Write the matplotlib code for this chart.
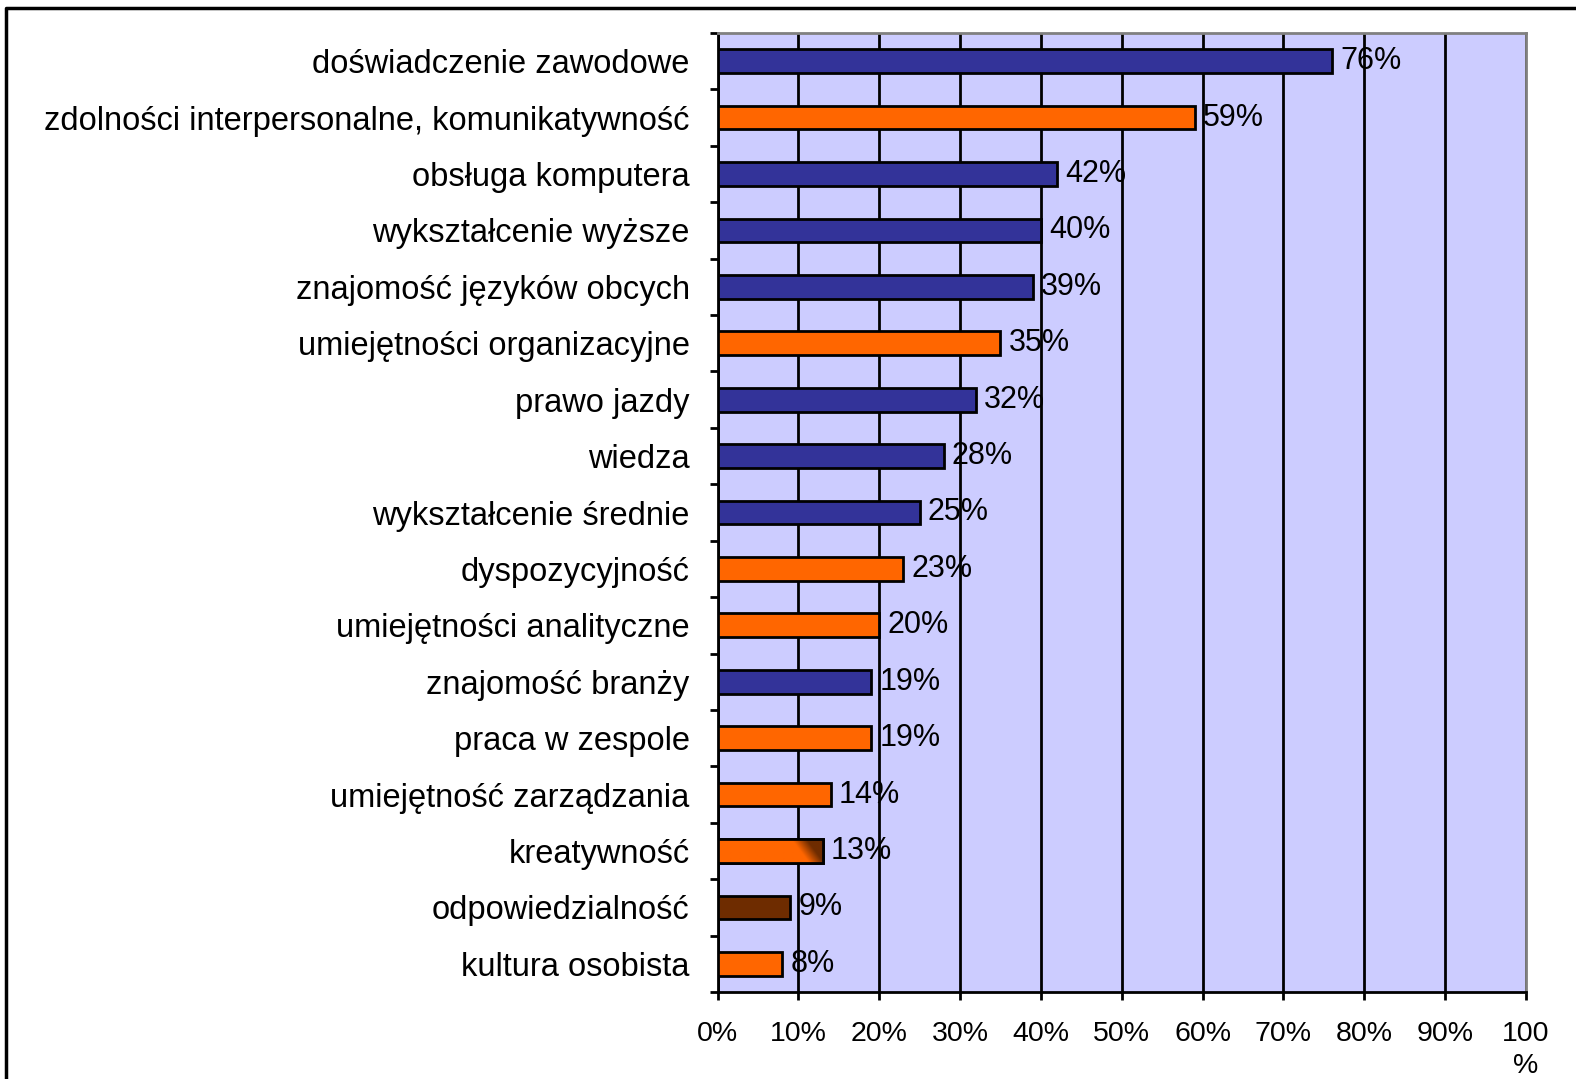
import numpy as np
import matplotlib.pyplot as plt
from matplotlib.lines import Line2D
from matplotlib.colors import to_rgb

# dane z wykresu (od gory do dolu)
kategorie = ['doświadczenie zawodowe',
             'zdolności interpersonalne, komunikatywność',
             'obsługa komputera',
             'wykształcenie wyższe',
             'znajomość języków obcych',
             'umiejętności organizacyjne',
             'prawo jazdy',
             'wiedza',
             'wykształcenie średnie',
             'dyspozycyjność',
             'umiejętności analityczne',
             'znajomość branży',
             'praca w zespole',
             'umiejętność zarządzania',
             'kreatywność',
             'odpowiedzialność',
             'kultura osobista']
wartosci = [76, 59, 42, 40, 39, 35, 32, 28, 25, 23, 20, 19, 19, 14, 13, 9, 8]
grupy = ['n', 'o', 'n', 'n', 'n', 'o', 'n', 'n', 'n', 'o', 'o', 'n', 'o', 'o', 'g', 'b', 'o']
xticki = ['0%', '10%', '20%', '30%', '40%', '50%', '60%', '70%', '80%', '90%', '100\n%']

kolory = {'n': '#333399', 'o': '#FF6600', 'b': '#6E2C00', 'g': '#FF6600'}

plt.rcParams['font.family'] = ['Liberation Sans', 'DejaVu Sans']

fig = plt.figure(figsize=(15.76, 10.79), dpi=100)
ax = fig.add_axes([717.5 / 1576, 1 - 992 / 1079, 808.5 / 1576, 959 / 1079])
ax.set_facecolor('#CCCCFF')

y = np.arange(len(kategorie))
bars = ax.barh(y, wartosci, height=0.42, color=[kolory[g] for g in grupy],
               edgecolor='black', linewidth=2, zorder=3)

# pasek z gradientem (kreatywnosc)
for b, g in zip(bars, grupy):
    if g != 'g':
        continue
    x0, y0 = b.get_x(), b.get_y()
    w, h = b.get_width(), b.get_height()
    xx, yy = np.meshgrid(np.linspace(0, 1, 200), np.linspace(0, 1, 20))
    t = np.clip((xx - 0.78 - 0.16 * (yy - 0.5)) / 0.14, 0, 1)
    c1, c2 = np.array(to_rgb('#FF6600')), np.array(to_rgb('#6E2C00'))
    img = c1 * (1 - t[..., None]) + c2 * t[..., None]
    im = ax.imshow(img, extent=[x0, x0 + w, y0 + h, y0], aspect='auto',
                   zorder=3.5, interpolation='bilinear')
    im.set_clip_path(b)
    ax.barh(b.get_y() + h / 2, w, height=h, color='none', edgecolor='black',
            linewidth=2, zorder=3.6)

for yi, v in zip(y, wartosci):
    ax.text(v + 1.0, yi, '%d%%' % v, va='center', ha='left', fontsize=22, zorder=4)

ax.set_xlim(0, 100)
ax.set_ylim(len(kategorie) - 0.5, -0.5)

ax.set_xticks(np.arange(0, 101, 10))
ax.set_xticklabels(xticki, fontsize=20.5, linespacing=1.3)
ax.xaxis.grid(True, color='black', linewidth=2, zorder=1)

ax.set_yticks(y)
ax.set_yticklabels(kategorie, fontsize=23.5)
ax.set_yticks(np.arange(-0.5, len(kategorie)), minor=True)
ax.tick_params(axis='y', which='major', length=0, pad=20)
ax.tick_params(axis='y', which='minor', length=6, width=2, direction='out')
ax.tick_params(axis='x', length=6, width=2, pad=15)

for s in ['left', 'bottom']:
    ax.spines[s].set_color('black')
    ax.spines[s].set_linewidth(2)
for s in ['top', 'right']:
    ax.spines[s].set_color('#808080')
    ax.spines[s].set_linewidth(2)

# ramka rysunku
fx = 6 / 1576
fy = 1 - 8 / 1079
fig.add_artist(Line2D([fx, fx, 1], [0, fy, fy], color='black', linewidth=2.5,
                      transform=fig.transFigure))

fig.savefig('out.png', dpi=100)
